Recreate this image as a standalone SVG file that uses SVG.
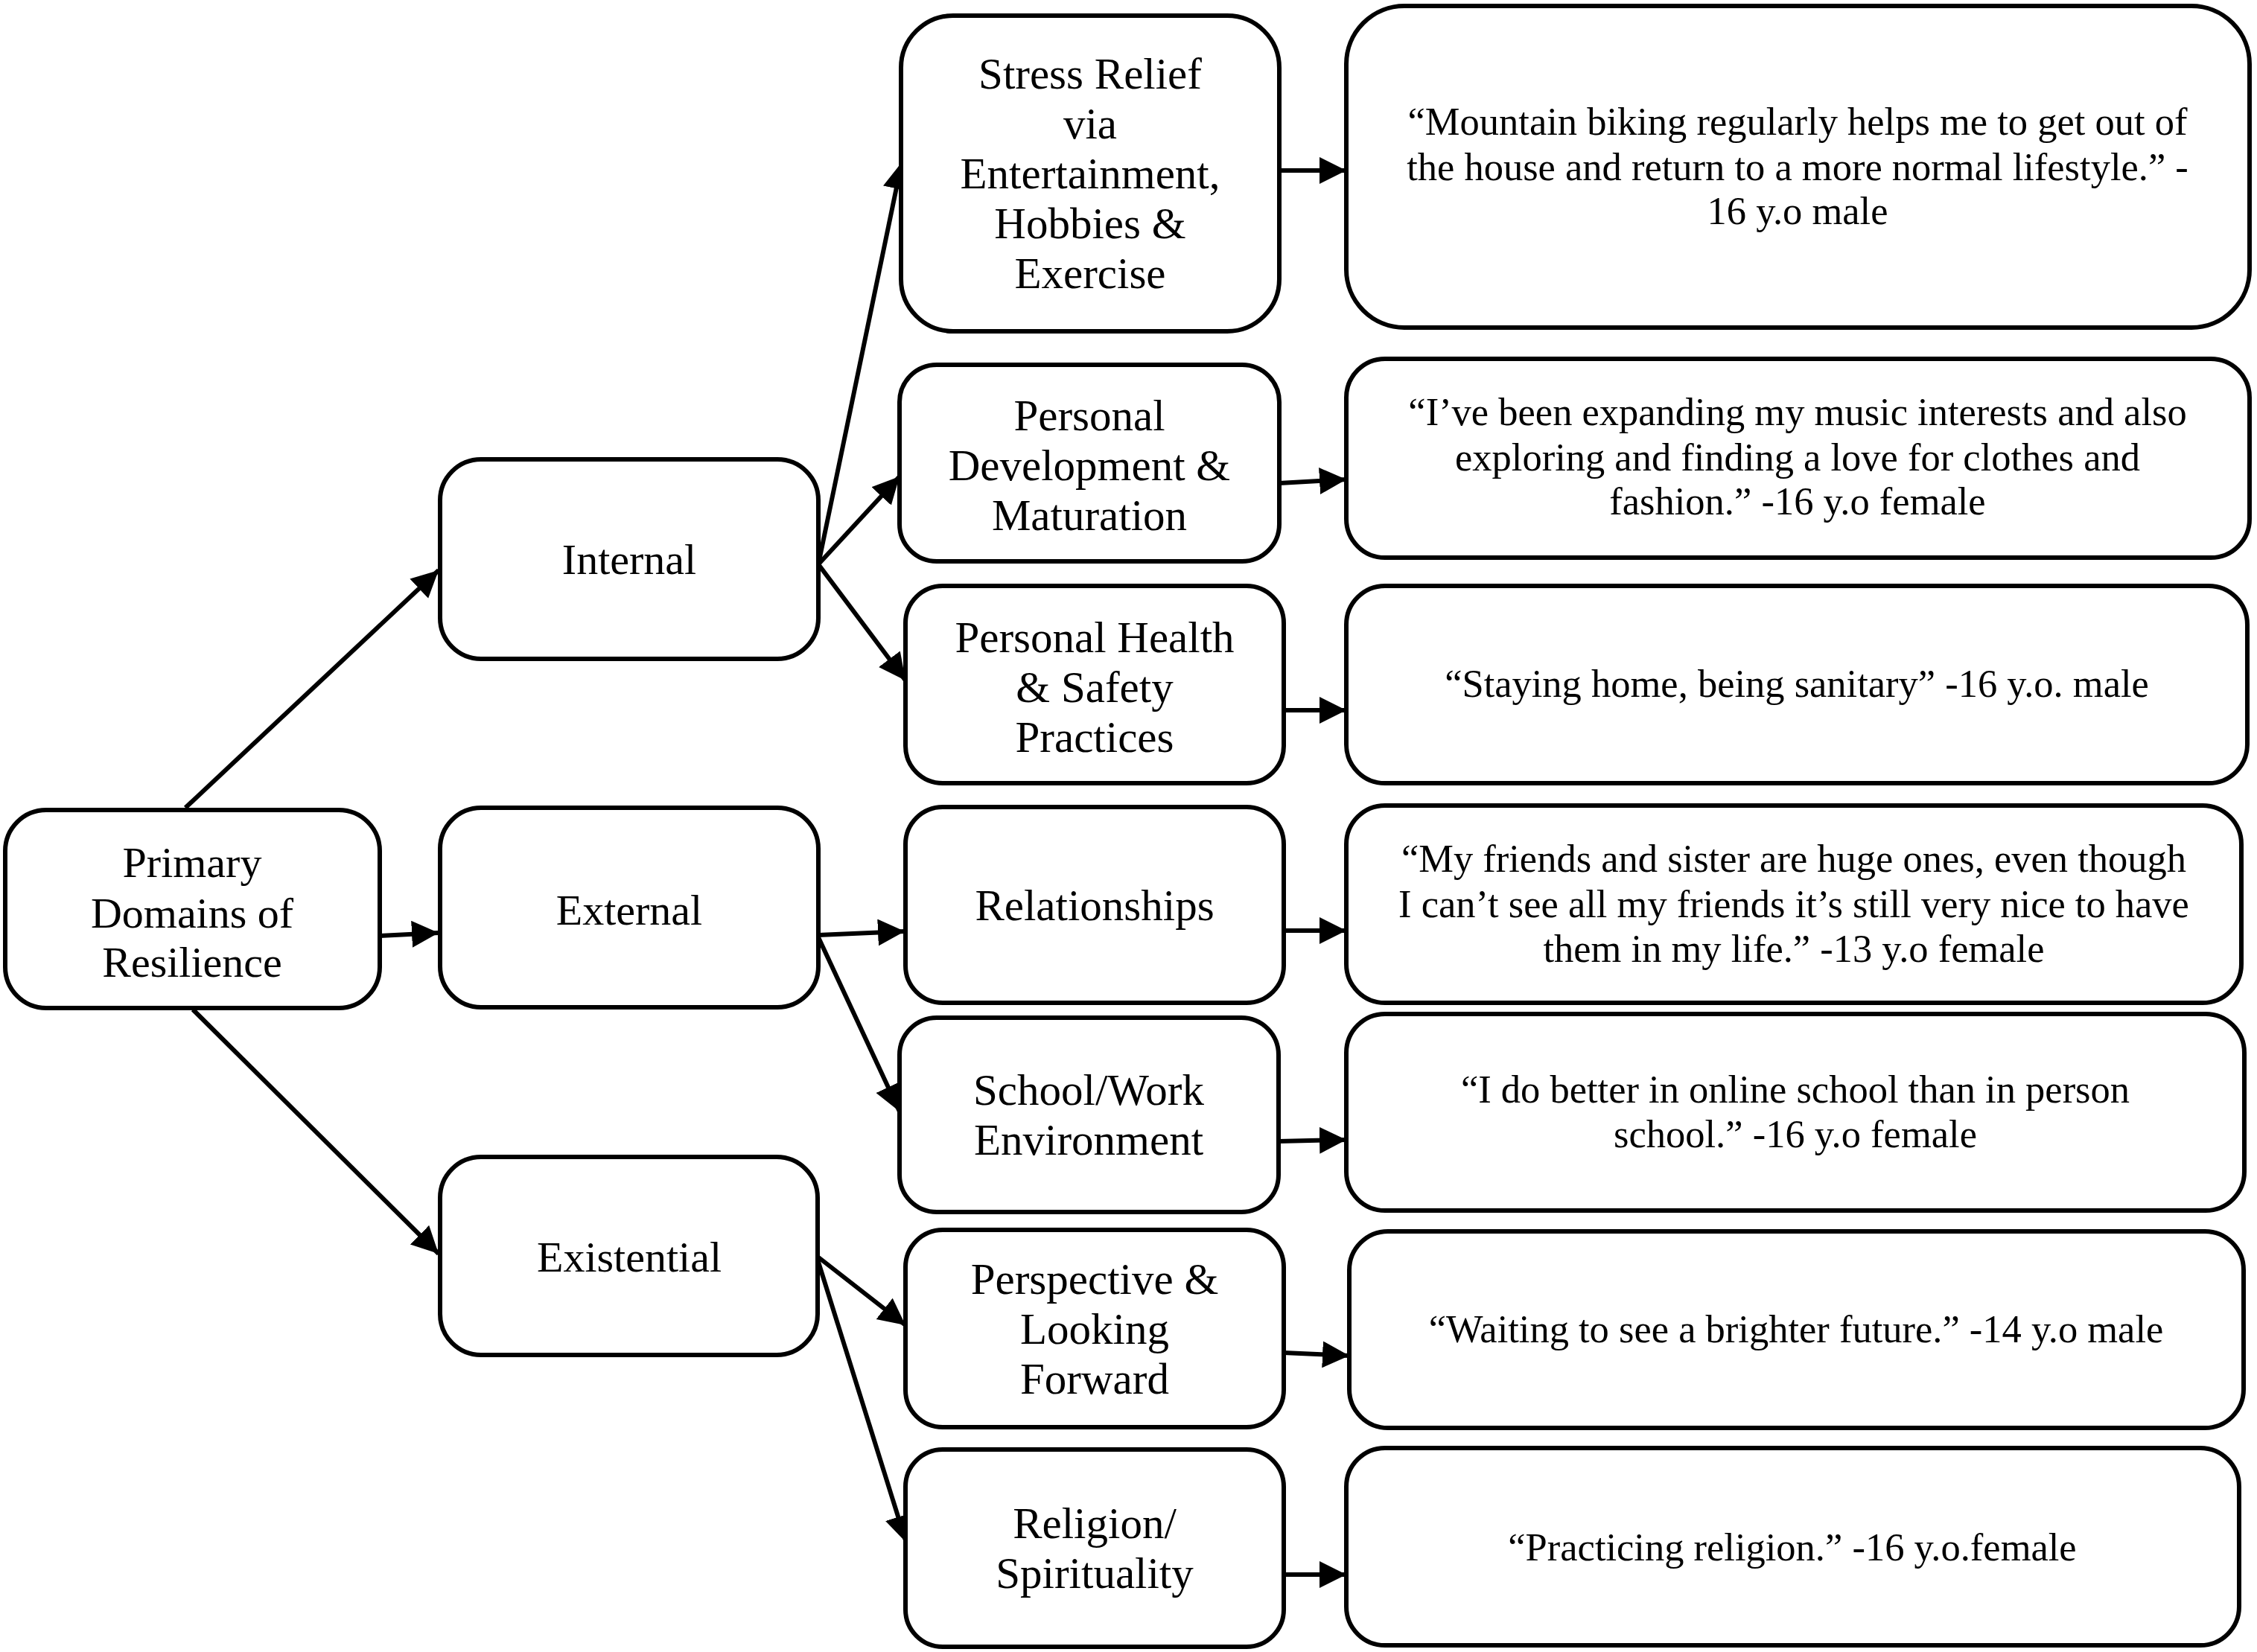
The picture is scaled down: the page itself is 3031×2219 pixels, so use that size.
<svg xmlns="http://www.w3.org/2000/svg" width="3031" height="2219" viewBox="0 0 3031 2219">
<style>
.box{fill:#fff;stroke:#000;stroke-width:6}
.t{font-family:"Liberation Serif","Times New Roman",serif;fill:#000;text-anchor:middle}
.l{font-size:58px}
.m{font-size:59px}
.q{font-size:52.5px}
.c{stroke:#000;stroke-width:6;fill:none;marker-end:url(#ah)}
</style>
<defs>
<marker id="ah" markerUnits="userSpaceOnUse" markerWidth="40" markerHeight="40" refX="36" refY="18" orient="auto">
<path d="M0,0 L36,18 L0,36 z" fill="#000"/>
</marker>
</defs>
<rect width="3031" height="2219" fill="#fff"/>
<g id="connectors">
<line class="c" x1="249" y1="1085" x2="589" y2="766"/>
<line class="c" x1="510" y1="1257" x2="589" y2="1253"/>
<line class="c" x1="259" y1="1356" x2="589" y2="1684"/>
<line class="c" x1="1099" y1="758" x2="1211" y2="218"/>
<line class="c" x1="1099" y1="758" x2="1208" y2="640"/>
<line class="c" x1="1099" y1="758" x2="1216" y2="914"/>
<line class="c" x1="1099" y1="1256" x2="1215" y2="1251"/>
<line class="c" x1="1099" y1="1259" x2="1208" y2="1493"/>
<line class="c" x1="1098" y1="1688" x2="1216" y2="1780"/>
<line class="c" x1="1098" y1="1692" x2="1217" y2="2072"/>
<line class="c" x1="1718" y1="229" x2="1808" y2="229"/>
<line class="c" x1="1718" y1="649" x2="1808" y2="644"/>
<line class="c" x1="1724" y1="954" x2="1808" y2="954"/>
<line class="c" x1="1724" y1="1250" x2="1808" y2="1250"/>
<line class="c" x1="1717" y1="1533" x2="1808" y2="1531"/>
<line class="c" x1="1724" y1="1817" x2="1812" y2="1821"/>
<line class="c" x1="1724" y1="2115" x2="1808" y2="2115"/>
</g>
<g id="primary"><rect class="box" x="7" y="1088" width="503" height="266" rx="55"/>
<text class="t l" x="258" y="1178">Primary</text><text class="t l" x="258" y="1246">Domains of</text><text class="t l" x="258" y="1312">Resilience</text></g>
<g id="internal"><rect class="box" x="591" y="617" width="508" height="268" rx="55"/>
<text class="t l" x="845" y="771">Internal</text></g>
<g id="external"><rect class="box" x="591" y="1085" width="508" height="268" rx="55"/>
<text class="t l" x="845" y="1242">External</text></g>
<g id="existential"><rect class="box" x="591" y="1554" width="507" height="266" rx="55"/>
<text class="t l" x="845" y="1708">Existential</text></g>
<g id="stress"><rect class="box" x="1210" y="21" width="508" height="424" rx="70"/>
<text class="t m" x="1464" y="119">Stress Relief</text><text class="t m" x="1464" y="186">via</text><text class="t m" x="1464" y="253">Entertainment,</text><text class="t m" x="1464" y="320">Hobbies &amp;</text><text class="t m" x="1464" y="387">Exercise</text></g>
<g id="pdev"><rect class="box" x="1208" y="490" width="510" height="264" rx="50"/>
<text class="t m" x="1463" y="578">Personal</text><text class="t m" x="1463" y="645">Development &amp;</text><text class="t m" x="1463" y="712">Maturation</text></g>
<g id="phealth"><rect class="box" x="1216" y="787" width="508" height="265" rx="50"/>
<text class="t m" x="1470" y="876">Personal Health</text><text class="t m" x="1470" y="943">&amp; Safety</text><text class="t m" x="1470" y="1010">Practices</text></g>
<g id="relationships"><rect class="box" x="1216" y="1084" width="508" height="263" rx="50"/>
<text class="t m" x="1470" y="1236">Relationships</text></g>
<g id="school"><rect class="box" x="1208" y="1367" width="509" height="261" rx="50"/>
<text class="t m" x="1462" y="1484">School/Work</text><text class="t m" x="1462" y="1551">Environment</text></g>
<g id="perspective"><rect class="box" x="1216" y="1652" width="508" height="265" rx="50"/>
<text class="t m" x="1470" y="1738">Perspective &amp;</text><text class="t m" x="1470" y="1805">Looking</text><text class="t m" x="1470" y="1872">Forward</text></g>
<g id="religion"><rect class="box" x="1216" y="1947" width="508" height="265" rx="50"/>
<text class="t m" x="1470" y="2066">Religion/</text><text class="t m" x="1470" y="2133">Spirituality</text></g>
<g id="q1"><rect class="box" x="1808" y="8" width="1213" height="432" rx="78"/>
<text class="t q" x="2414" y="181">“Mountain biking regularly helps me to get out of</text><text class="t q" x="2414" y="242">the house and return to a more normal lifestyle.” -</text><text class="t q" x="2414" y="301">16 y.o male</text></g>
<g id="q2"><rect class="box" x="1808" y="482" width="1213" height="267" rx="52"/>
<text class="t q" x="2414" y="571">“I’ve been expanding my music interests and also</text><text class="t q" x="2414" y="632">exploring and finding a love for clothes and</text><text class="t q" x="2414" y="691">fashion.” -16 y.o female</text></g>
<g id="q3"><rect class="box" x="1808" y="787" width="1210" height="265" rx="52"/>
<text class="t q" x="2413" y="936">“Staying home, being sanitary” -16 y.o. male</text></g>
<g id="q4"><rect class="box" x="1808" y="1082" width="1202" height="265" rx="52"/>
<text class="t q" x="2409" y="1171">“My friends and sister are huge ones, even though</text><text class="t q" x="2409" y="1232">I can’t see all my friends it’s still very nice to have</text><text class="t q" x="2409" y="1292">them in my life.” -13 y.o female</text></g>
<g id="q5"><rect class="box" x="1808" y="1362" width="1206" height="264" rx="52"/>
<text class="t q" x="2411" y="1481">“I do better in online school than in person</text><text class="t q" x="2411" y="1541">school.” -16 y.o female</text></g>
<g id="q6"><rect class="box" x="1812" y="1654" width="1201" height="264" rx="52"/>
<text class="t q" x="2412" y="1803">“Waiting to see a brighter future.” -14 y.o male</text></g>
<g id="q7"><rect class="box" x="1808" y="1945" width="1199" height="265" rx="52"/>
<text class="t q" x="2407" y="2096">“Practicing religion.” -16 y.o.female</text></g>
</svg>
